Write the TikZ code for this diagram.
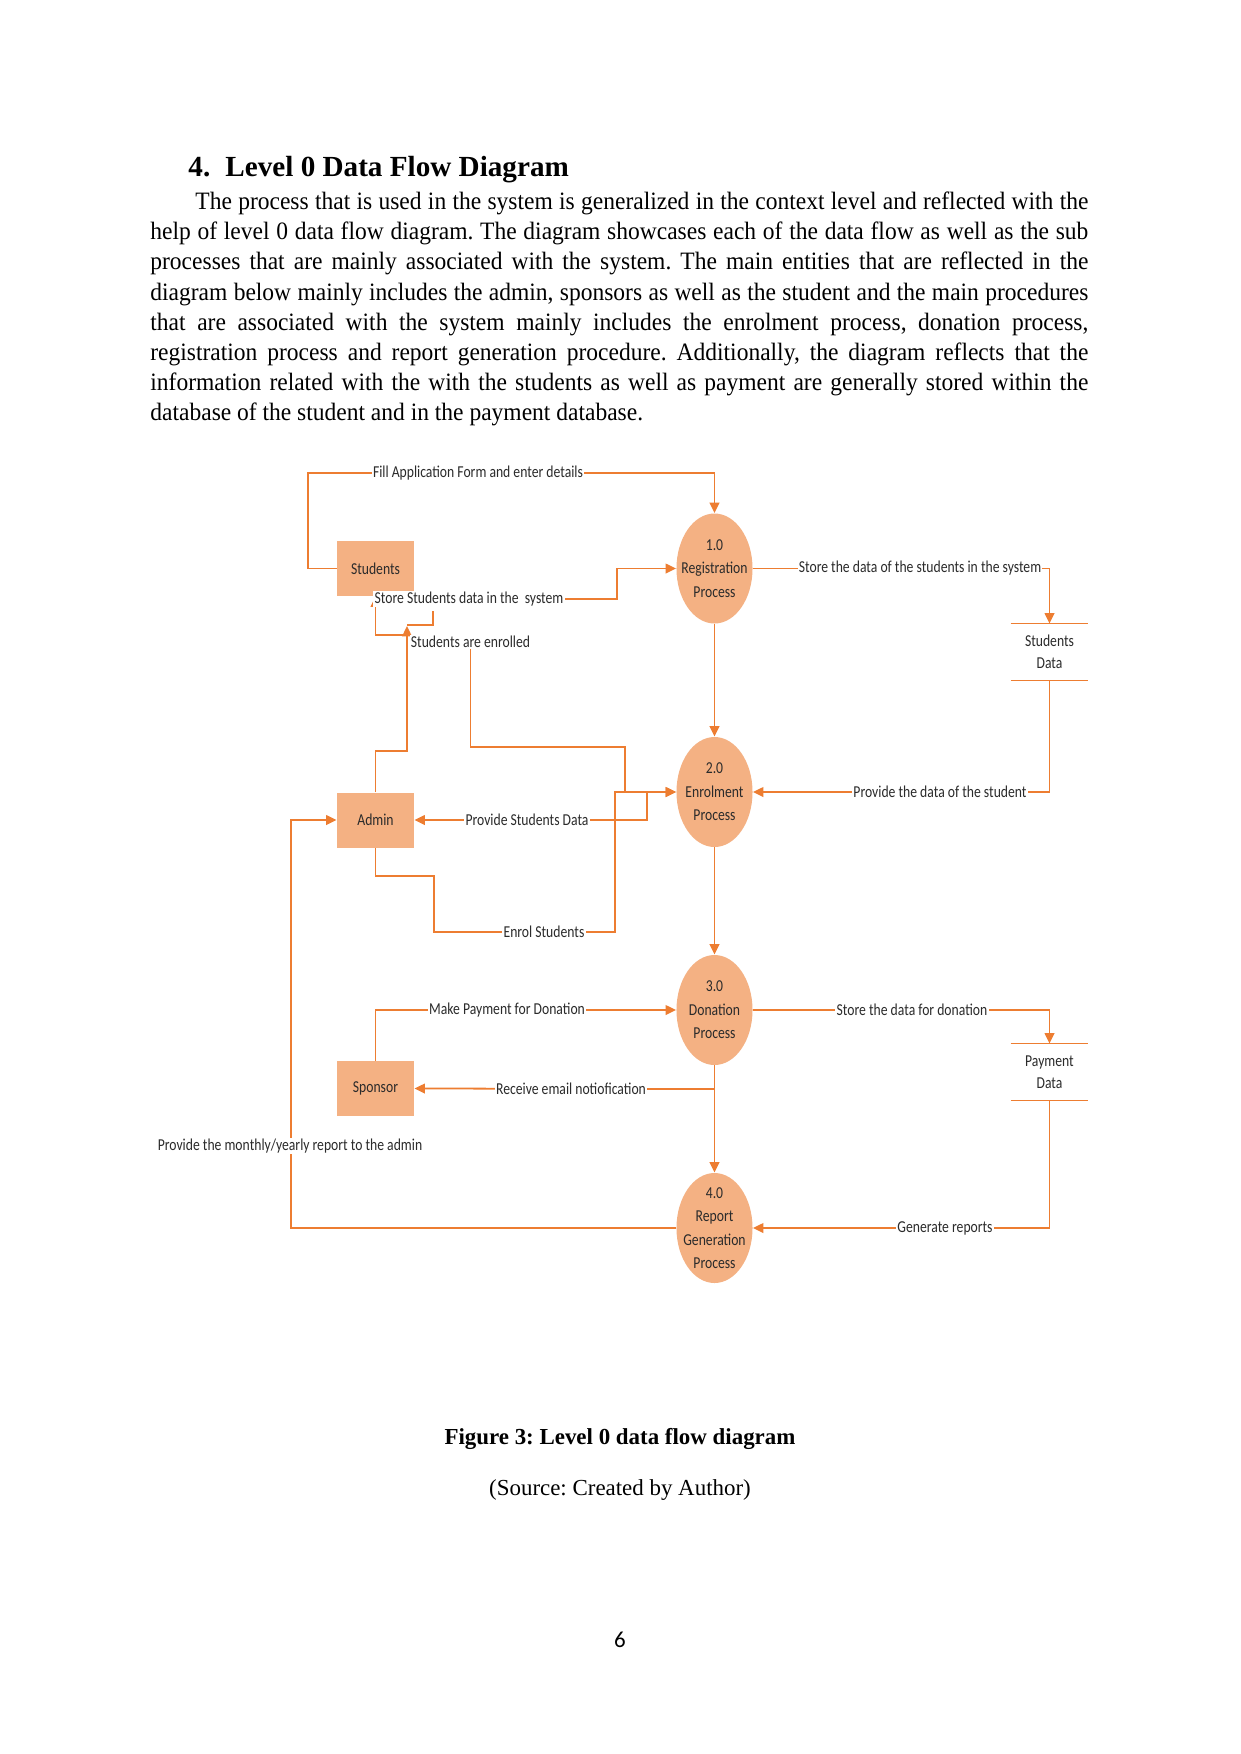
\documentclass[tikz,border=0pt]{standalone}
\usepackage{fontspec}
\setmainfont{Liberation Serif}
\newfontfamily\bodyfont[FakeStretch=0.94]{Liberation Serif}
\newfontfamily\dfont[FakeStretch=0.82]{Carlito}
\newfontfamily\pnfont{Carlito}
\usetikzlibrary{arrows.meta,shapes.geometric,calc}
\definecolor{lineor}{HTML}{ED7D31}
\definecolor{fillor}{HTML}{F4B183}
\definecolor{dtext}{HTML}{2B2B2B}
\newcommand{\jl}[2]{\makebox[#1][s]{#2}}
\frenchspacing
\begin{document}
\begin{tikzpicture}[x=0.48pt,y=-0.48pt,
  conn/.style={draw=lineor,line width=0.85pt},
  arr/.style={conn,-{Triangle[length=5pt,width=4.6pt]}},
  entity/.style={fill=fillor,minimum width=36.96pt,minimum height=26.4pt,inner sep=0pt,
    font=\dfont\fontsize{8}{11}\selectfont,text=dtext},
  proc/.style={ellipse,fill=fillor,minimum width=36.5pt,minimum height=52.8pt,inner sep=0pt},
  proctext/.style={align=center,inner sep=0pt,font=\dfont\fontsize{8}{11.3}\selectfont,text=dtext},
  store/.style={minimum width=36.96pt,minimum height=26.9pt,inner sep=0pt,
    align=center,font=\dfont\fontsize{8}{10.8}\selectfont,text=dtext},
  lab/.style={fill=white,inner sep=0.6pt,font=\dfont\fontsize{8}{9}\selectfont,text=dtext},
  bodyline/.style={anchor=base west,inner sep=0pt,font=\bodyfont\fontsize{12}{14.5}\selectfont},
]
\useasboundingbox[fill=white] (0,0) rectangle (1241,1754);

% heading and paragraph
\node[anchor=base west,inner sep=0pt,font=\fontsize{14}{17}\selectfont\bfseries] (hnum) at (188,176) {4.};
\node[anchor=base west,inner sep=0pt,font=\fontsize{14}{17}\selectfont\bfseries] (htitle) at (225,176) {Level 0 Data Flow Diagram};
\node[bodyline] (b1) at (195,209.5) {\jl{428.6pt}{The process that is used in the system is generalized in the context level and reflected with the}};
\node[bodyline] (b2) at (150,239.7) {\jl{450.2pt}{help of level 0 data flow diagram. The diagram showcases each of the data flow as well as the sub}};
\node[bodyline] (b3) at (150,269.9) {\jl{450.2pt}{processes that are mainly associated with the system. The main entities that are reflected in the}};
\node[bodyline] (b4) at (150,300.1) {\jl{450.2pt}{diagram below mainly includes the admin, sponsors as well as the student and the main procedures}};
\node[bodyline] (b5) at (150,330.3) {\jl{450.2pt}{that are associated with the system mainly includes the enrolment process, donation process,}};
\node[bodyline] (b6) at (150,360.5) {\jl{450.2pt}{registration process and report generation procedure. Additionally, the diagram reflects that the}};
\node[bodyline] (b7) at (150,390.7) {\jl{450.2pt}{information related with the with the students as well as payment are generally stored within the}};
\node[bodyline] (b8) at (150,420.9) {database of the student and in the payment database.};

% entities and processes
\node[entity] (stu) at (375.5,568.5) {Students};
\node[entity] (adm) at (375.5,820) {Admin};
\node[entity] (spo) at (375.5,1088.5) {Sponsor};
\node[proc,label={[proctext]center:{1.0\\Registration\\Process}}] (p1) at (714.5,568.5) {};
\node[proc,label={[proctext]center:{2.0\\Enrolment\\Process}}] (p2) at (714.5,792) {};
\node[proc,label={[proctext]center:{3.0\\Donation\\Process}}] (p3) at (714.5,1010) {};
\node[proc,label={[proctext]center:{4.0\\Report\\Generation\\Process}}] (p4) at (714.5,1228) {};
\node[store] (sd) at (1049.5,652) {Students\\Data};
\node[store] (pd) at (1049.5,1072) {Payment\\Data};
\draw[conn] (sd.north west) -- (sd.north east) (sd.south west) -- (sd.south east);
\draw[conn] (pd.north west) -- (pd.north east) (pd.south west) -- (pd.south east);

\coordinate (j1) at (433,611);
\coordinate (j2) at (647,792);
\coordinate (j3) at (714.5,1089);

% connectors
\draw[arr] (stu.west) -| (308,473) -| (p1.north);
\draw[arr] (469,599) -| (617,568.5) -- (p1.west);
\draw[arr] (adm.north) |- (407,751) -- (407,635) -| (stu.south);
\draw[arr] (407,645) -- (407,626);
\draw[conn] (j1) |- (407,625);
\draw[arr] (470.5,642) |- (625,747) |- (p2.west);
\draw[arr] (adm.south) |- (434,876) |- (615,932) |- (p2.west);
\draw[arr] (j2) |- (adm.east);
\draw[arr] (p1.south) -- (p2.north);
\draw[arr] (p1.east) -| (sd.north);
\draw[arr] (sd.south) |- (p2.east);
\draw[arr] (p2.south) -- (p3.north);
\draw[arr] (p3.east) -| (pd.north);
\draw[arr] (spo.north) |- (p3.west);
\draw[arr] (j3) -- (spo.east);
\draw[arr] (p3.south) -- (p4.north);
\draw[arr] (pd.south) |- (p4.east);
\draw[arr] (p4.west) -| (291,820) -- (adm.west);

% connector labels
\node[lab] (l1) at (478,473) {Fill Application Form and enter details};
\node[lab] (l2) at (469,599) {Store Students data in the\ \ system};
\node[lab] (l3) at (470.5,642) {Students are enrolled};
\node[lab] (l4) at (544,932) {Enrol Students};
\node[lab] (l5) at (527,820) {Provide Students Data};
\node[lab] (l6) at (920,568.5) {Store the data of the students in the system};
\node[lab] (l7) at (940,792) {Provide the data of the student};
\node[lab] (l8) at (912,1010) {Store the data for donation};
\node[lab] (l9) at (507,1010) {Make Payment for Donation};
\node[lab] (l10) at (571,1089) {Receive email notiofication};
\node[lab] (l11) at (945,1228) {Generate reports};
\node[lab] (l12) at (290,1146) {Provide the monthly/yearly report to the admin};

% caption and page number
\node[anchor=base,inner sep=0pt,font=\fontsize{11}{13}\selectfont\bfseries] (cap) at (620,1444) {Figure 3: Level 0 data flow diagram};
\node[anchor=base,inner sep=0pt,font=\fontsize{11}{13}\selectfont] (src) at (620,1495) {(Source: Created by Author)};
\node[anchor=base,inner sep=0pt,font=\pnfont\fontsize{11}{13}\selectfont] (pg) at (620,1647) {6};
\end{tikzpicture}
\end{document}
